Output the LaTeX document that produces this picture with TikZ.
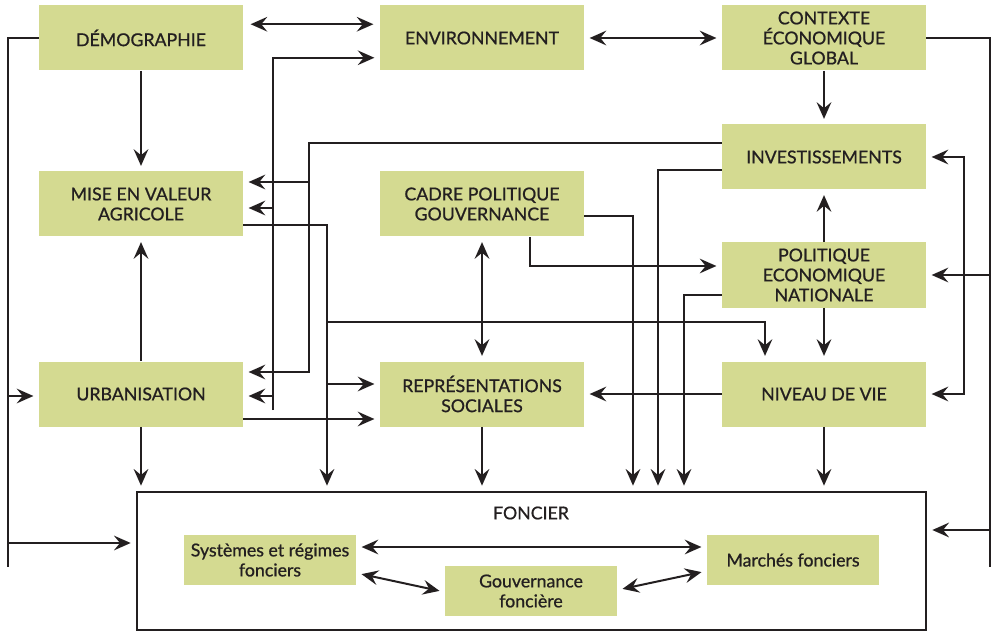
\documentclass[tikz,border=0pt]{standalone}
\usepackage{fontspec}
\setmainfont{Lato}[RawFeature={embolden=0.8}]
\usetikzlibrary{arrows.meta}
\definecolor{boxgreen}{RGB}{212,218,145}
\definecolor{ink}{RGB}{35,31,32}
\tikzset{
  every node/.style={text=ink, font=\fontsize{13.3}{15}\selectfont},
  bigbox/.style={fill=boxgreen, inner sep=0pt, align=center,
    minimum width=204*0.75pt, minimum height=65*0.75pt},
  smallbox/.style={fill=boxgreen, inner sep=0pt, align=center,
    minimum width=172*0.75pt, minimum height=50*0.75pt},
  conn/.style={draw=ink, line width=1.5pt},
  tip/.tip={Stealth[length=12.5pt,width=11pt,inset=4.5pt]},
  arr/.style={conn, -tip, shorten >=4pt},
  darr/.style={conn, tip-tip, shorten >=4pt, shorten <=4pt},
}
\begin{document}
\begin{tikzpicture}[x=0.75pt,y=-0.75pt]
\useasboundingbox (0,0) rectangle (993,631);
% main boxes
\node[bigbox] (demo)  at (141,38)  {DÉMOGRAPHIE};
\node[bigbox] (env)   at (482,38)  {ENVIRONNEMENT};
\node[bigbox] (ctx)   at (824,38)  {CONTEXTE\\ÉCONOMIQUE\\GLOBAL};
\node[bigbox] (inv)   at (824,157) {INVESTISSEMENTS};
\node[bigbox] (mise)  at (141,204) {MISE EN VALEUR\\AGRICOLE};
\node[bigbox] (cadre) at (482,204) {CADRE POLITIQUE\\GOUVERNANCE};
\node[bigbox] (pol)   at (824,275) {POLITIQUE\\ECONOMIQUE\\NATIONALE};
\node[bigbox] (urb)   at (141,394) {URBANISATION};
\node[bigbox] (rep)   at (482,394) {REPRÉSENTATIONS\\SOCIALES};
\node[bigbox] (niv)   at (824,394) {NIVEAU DE VIE};
% foncier
\node[draw=ink, line width=1.5pt, minimum width=789*0.75pt, minimum height=138*0.75pt, inner sep=0pt] (fon) at (531.5,561) {};
\node (fonlbl) at (531,513) {FONCIER};
\node[smallbox] (sys)    at (270,560) {Systèmes et régimes\\fonciers};
\node[smallbox] (gouv)   at (531,591) {Gouvernance\\foncière};
\node[smallbox] (marche) at (793,560) {Marchés fonciers};
% coordinates
\coordinate (L)  at (8,567);
\coordinate (E0) at (273,410);
\coordinate (I1) at (309,143);
\coordinate (M1) at (327,225);
\coordinate (N1) at (765,322);
\coordinate (C1) at (530,266);
\coordinate (C2) at (633,216);
\coordinate (I2) at (658,170);
\coordinate (P2) at (684,295);
\coordinate (R1) at (990,567);
\coordinate (R2) at (964,300);
% top row
\draw[darr] ([shift={(2,19)}]demo.north east) -- ([shift={(-1,19)}]env.north west);
\draw[darr] (env.east) -- (ctx.west);
% left column
\draw[arr] (demo.south) -- (mise.north);
\draw[arr] (urb.north) -- (mise.south);
\draw[arr] (urb.south) -- (urb.south |- fon.north);
% far left line
\draw[conn] (demo.west) -| (L);
\draw[arr] (L |- 0,396) -- (urb.west |- 0,396);
\draw[arr] (L |- 0,543) -- (fon.west |- 0,543);
% environment line
\draw[arr] (E0) |- ([shift={(0,-13)}]env.south west);
\draw[arr] (E0 |- 0,208) -- (mise.east |- 0,208);
\draw[arr] (E0 |- 0,396) -- (urb.east |- 0,396);
% investissements to left
\draw[arr] (inv.west |- I1) -- (I1) |- (urb.east |- 0,372);
\draw[arr] (I1 |- 0,182) -- (mise.east |- 0,182);
% mise en valeur right line
\draw[arr] (mise.east |- M1) -| (M1 |- fon.north);
\draw[arr] (M1 |- N1) -| (N1 |- niv.north);
\draw[arr] (M1 |- 0,384) -- (rep.west |- 0,384);
% urbanisation -> representations
\draw[arr] (urb.east |- 0,419) -- (rep.west |- 0,419);
% centre column
\draw[darr] (cadre.south) -- (rep.north);
\draw[arr] (rep.south) -- (rep.south |- fon.north);
\draw[arr] (C1 |- cadre.south) |- (pol.west |- C1);
\draw[arr] (cadre.east |- C2) -| (C2 |- fon.north);
\draw[arr] (inv.west |- I2) -| (I2 |- fon.north);
\draw[arr] (pol.west |- P2) -| (P2 |- fon.north);
% right column
\draw[arr] (ctx.south) -- (inv.north);
\draw[arr] (pol.north) -- (inv.south);
\draw[arr] (pol.south) -- (niv.north);
\draw[arr] (niv.south) -- (niv.south |- fon.north);
\draw[arr] (niv.west) -- (rep.east);
% far right line
\draw[conn] (ctx.east) -| (R1);
\draw[arr] (R1 |- pol.east) -- (pol.east);
\draw[arr] (R1 |- 0,530) -- (fon.east |- 0,530);
\draw[darr] (inv.east) -| (R2) |- (niv.east);
% inside foncier
\draw[darr] ([shift={(0,-13)}]sys.east) -- ([shift={(0,-13)}]marche.west);
\draw[darr] ([shift={(0,13)}]sys.east) -- ([shift={(0,1)}]gouv.west);
\draw[darr] ([shift={(0,-1)}]gouv.east) -- ([shift={(0,11)}]marche.west);
\end{tikzpicture}
\end{document}
